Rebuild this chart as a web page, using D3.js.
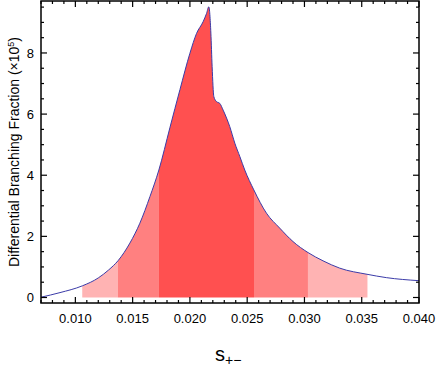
<!DOCTYPE html>
<html>
<head>
<meta charset="utf-8">
<script src="https://cdn.jsdelivr.net/npm/d3@7"></script>
<style>
	body { margin: 0; background: #fff; }
	svg { display: block; }
</style>
</head>
<body>
<div id="chart"></div>
<script>
// curve samples: s, differential BF (x10^5)
var sVals = [0.0070, 0.00866, 0.0106, 0.0120, 0.0129, 0.01374, 0.01476, 0.01563, 0.01651, 0.01729,
	0.01825, 0.01913, 0.02000, 0.02058, 0.02115, 0.02145, 0.02165, 0.02183, 0.02194, 0.02209,
	0.02232, 0.02261, 0.02290, 0.02320, 0.02348, 0.02392, 0.02436, 0.02479, 0.02558, 0.02668,
	0.02784, 0.02900, 0.03031, 0.03162, 0.03308, 0.03546, 0.03715, 0.0400];
var bfVals = [0.01, 0.16, 0.38, 0.64, 0.90, 1.21, 1.78, 2.43, 3.30, 4.17,
	5.55, 6.80, 7.99, 8.64, 9.02, 9.29, 9.51, 8.65, 7.55, 6.57,
	6.41, 6.35, 6.13, 5.87, 5.59, 5.05, 4.61, 4.17, 3.52, 2.76,
	2.27, 1.83, 1.47, 1.20, 0.96, 0.76, 0.65, 0.55];

// shaded bands: [from, to, level]
var bandFrom = [0.0106, 0.0137, 0.0173, 0.0256, 0.0303];
var bandTo = [0.0137, 0.0173, 0.0256, 0.0303, 0.0355];
var bandLevel = [1, 2, 3, 2, 1];

var xTicks = [0.010, 0.015, 0.020, 0.025, 0.030, 0.035, 0.040];
var yTicks = [0, 2, 4, 6, 8];

var W = 436, H = 367;
var pLeft = 41, pRight = 419, pTop = 1, pBottom = 303;
var font = "Liberation Sans, Arial, sans-serif";
var bandColor = { 1: "#ffb3b3", 2: "#ff8080", 3: "#ff5050" };

var svg = d3.select("#chart").append("svg")
	.attr("width", W)
	.attr("height", H);

var x = d3.scaleLinear().domain([0.007, 0.040]).range([pLeft, pRight]);
var y = d3.scaleLinear().domain([-0.18, 9.7]).range([pBottom, pTop]);

var data = sVals.map(function(s, i) { return { s: s, v: bfVals[i] }; });

var area = d3.area()
	.curve(d3.curveMonotoneX)
	.x(function(d) { return x(d.s); })
	.y0(y(0))
	.y1(function(d) { return y(d.v); });

var line = d3.line()
	.curve(d3.curveMonotoneX)
	.x(function(d) { return x(d.s); })
	.y(function(d) { return y(d.v); });

var defs = svg.append("defs");
for (var i = 0; i < bandFrom.length; i++) {
	defs.append("clipPath").attr("id", "band" + i)
		.append("rect")
		.attr("x", x(bandFrom[i]))
		.attr("y", pTop)
		.attr("width", x(bandTo[i]) - x(bandFrom[i]))
		.attr("height", pBottom - pTop);
	svg.append("path")
		.datum(data)
		.attr("d", area)
		.attr("fill", bandColor[bandLevel[i]])
		.attr("clip-path", "url(#band" + i + ")");
}

svg.append("path")
	.datum(data)
	.attr("d", line)
	.attr("fill", "none")
	.attr("stroke", "#3b3ba8")
	.attr("stroke-width", 1);

// frame with inward ticks on all four sides
var xMinor = d3.range(7, 40.5, 1).map(function(d) { return d / 1000; });
var yMinor = d3.range(0, 19.5, 1).map(function(d) { return d / 2; });

function tick(x1, y1, x2, y2) {
	svg.append("line")
		.attr("x1", x1).attr("y1", y1).attr("x2", x2).attr("y2", y2)
		.attr("stroke", "#000").attr("stroke-width", 1.2);
}
xMinor.forEach(function(t) {
	var major = xTicks.some(function(m) { return Math.abs(m - t) < 1e-6; });
	var len = major ? 6 : 3;
	tick(x(t), pBottom, x(t), pBottom - len);
	tick(x(t), pTop, x(t), pTop + len);
});
yMinor.forEach(function(t) {
	var major = yTicks.indexOf(t) >= 0;
	var len = major ? 6 : 3;
	tick(pLeft, y(t), pLeft + len, y(t));
	tick(pRight, y(t), pRight - len, y(t));
});

svg.append("rect")
	.attr("x", pLeft).attr("y", pTop)
	.attr("width", pRight - pLeft).attr("height", pBottom - pTop)
	.attr("fill", "none").attr("stroke", "#000").attr("stroke-width", 1.5);

svg.selectAll(".xlab").data(xTicks).enter().append("text")
	.attr("x", function(d) { return x(d); })
	.attr("y", 323)
	.attr("text-anchor", "middle")
	.attr("font-family", font)
	.attr("font-size", "13px")
	.text(d3.format(".3f"));

svg.selectAll(".ylab").data(yTicks).enter().append("text")
	.attr("x", 34)
	.attr("y", function(d) { return y(d) + 5; })
	.attr("text-anchor", "end")
	.attr("font-family", font)
	.attr("font-size", "13px")
	.text(function(d) { return d; });

var yl = svg.append("text")
	.attr("transform", "translate(19,152) rotate(-90)")
	.attr("text-anchor", "middle")
	.attr("font-family", font)
	.attr("font-size", "14px");
yl.append("tspan").text("Differential Branching Fraction (\u00d710");
yl.append("tspan").attr("dy", -5).attr("font-size", "9px").text("5");
yl.append("tspan").attr("dy", 5).text(")");

var xl = svg.append("text")
	.attr("x", 215)
	.attr("y", 361)
	.attr("font-family", font)
	.attr("font-size", "20px");
xl.append("tspan").text("s");
xl.append("tspan").attr("dy", 4).attr("font-size", "14px").text("+\u2212");
</script>
</body>
</html>
